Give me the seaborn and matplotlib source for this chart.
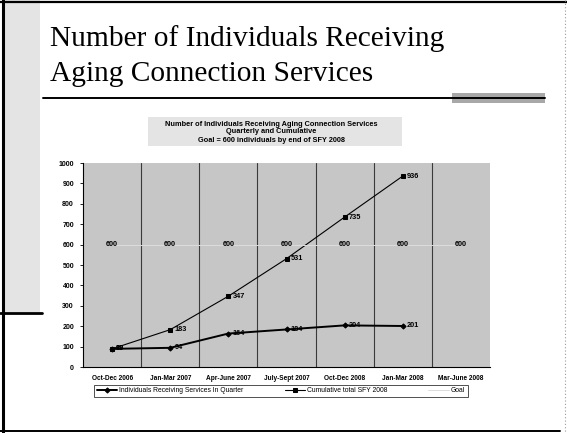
import numpy as np
import pandas as pd
import matplotlib
matplotlib.use("Agg")
import matplotlib.pyplot as plt
from matplotlib.patches import Rectangle
from matplotlib.lines import Line2D
import seaborn as sns

# Quarterly reporting periods
quarters = ["Oct-Dec 2006", "Jan-Mar 2007", "Apr-June 2007", "July-Sept 2007",
            "Oct-Dec 2008", "Jan-Mar 2008", "Mar-June 2008"]
# Individuals served in each quarter
in_quarter = [89, 94, 164, 184, 204, 201]
# Running total for the fiscal year
cumulative = [89, 183, 347, 531, 735, 936]
# Target for the year
goal = [600, 600, 600, 600, 600, 600, 600]
y_ticks = list(range(0, 1001, 100))

sns.set_style("white")
plt.rcParams["font.family"] = ["Liberation Sans", "DejaVu Sans"]
plt.rcParams.update({"text.color": "black", "axes.labelcolor": "black",
                     "xtick.color": "black", "ytick.color": "black"})

W, H = 567, 433
fig = plt.figure(figsize=(W / 100, H / 100), dpi=100)
fig.patch.set_facecolor("white")


def px_rect(x0, y0, x1, y1, **kw):
    """Rectangle in pixel coords measured from the top-left corner."""
    fig.patches.append(Rectangle((x0 / W, 1 - y1 / H), (x1 - x0) / W, (y1 - y0) / H,
                                 transform=fig.transFigure, **kw))


def px_line(x0, y0, x1, y1, **kw):
    fig.lines.append(Line2D([x0 / W, x1 / W], [1 - y0 / H, 1 - y1 / H],
                            transform=fig.transFigure, **kw))


# Slide decoration
px_rect(3, 0, 40, 312, facecolor="#e4e4e4", edgecolor="none")
px_line(0, 313, 42, 313, color="black", lw=2.0)
px_rect(148, 117, 402, 146, facecolor="#e4e4e4", edgecolor="none")
px_rect(452, 93, 545, 103, facecolor="#a8a8a8", edgecolor="none")
px_line(43, 98, 545, 98, color="black", lw=1.4)
px_line(3, 0, 3, H, color="black", lw=2.2)
px_line(0, 1.5, W, 1.5, color="black", lw=1.6)
px_line(0, 431, 560, 431, color="black", lw=1.4)
px_line(565, 0, 565, H, color="#9a9a9a", lw=0.8, ls=(0, (1, 2)))

# Slide title
fig.text(50 / W, 1 - 39 / H, "Number of Individuals Receiving", fontsize=21.2,
         family="Liberation Serif", va="center", ha="left", color="black")
fig.text(50 / W, 1 - 74 / H, "Aging Connection Services", fontsize=21.2,
         family="Liberation Serif", va="center", ha="left", color="black")

# Chart title block
for yy, s in [(124, "Number of Individuals Receiving Aging Connection Services"),
              (132, "Quarterly and Cumulative"),
              (140, "Goal = 600 individuals by end of SFY 2008")]:
    fig.text(271 / W, 1 - yy / H, s, fontsize=5.3, weight="bold", ha="center", va="center")

ax = fig.add_axes([83 / W, 1 - 367 / H, (490 - 83) / W, (367 - 163) / H])
ax.set_facecolor("#c6c6c6")

x_all = np.arange(len(quarters))
x_data = x_all[:len(in_quarter)]

sns.lineplot(x=x_data, y=in_quarter, ax=ax, color="black", lw=1.4, marker="D",
             markersize=2.6, markeredgecolor="black", label="Individuals Receiving Services In Quarter")
sns.lineplot(x=x_data, y=cumulative, ax=ax, color="black", lw=0.8, marker="s",
             markersize=2.6, markeredgecolor="black", label="Cumulative total SFY 2008")
sns.lineplot(x=x_all, y=goal, ax=ax, color="#dcdcdc", lw=0.7, label="Goal")

for xi, v in zip(x_data, in_quarter):
    ax.annotate(str(v), (xi, v), xytext=(3, 0), textcoords="offset points",
                fontsize=5.3, weight="bold", ha="left", va="center")
for xi, v in zip(x_data, cumulative):
    ax.annotate(str(v), (xi, v), xytext=(3, 0), textcoords="offset points",
                fontsize=5.3, weight="bold", ha="left", va="center")
for xi, v in zip(x_all, goal):
    ax.annotate(str(v), (xi, v), fontsize=5.2, weight="bold", ha="center", va="center")

ax.set_xlim(-0.5, len(quarters) - 0.5)
ax.set_ylim(0, 1000)
ax.set_yticks(y_ticks)
ax.set_yticklabels([str(t) for t in y_ticks], fontsize=5, weight="bold")
ax.set_xticks(x_all)
ax.set_xticklabels(quarters, fontsize=4.7, weight="bold")
ax.set_xticks(np.arange(0.5, len(quarters) - 0.5, 1.0), minor=True)
ax.grid(False)
ax.grid(True, which="minor", axis="x", color="#3a3a3a", lw=0.8)
ax.tick_params(axis="x", which="both", length=0, pad=6)
ax.tick_params(axis="y", length=2.5, width=0.6, direction="out", pad=4, left=True)
for side in ["top", "right"]:
    ax.spines[side].set_visible(False)
for side in ["left", "bottom"]:
    ax.spines[side].set_color("black")
    ax.spines[side].set_linewidth(0.8)
ax.set_xlabel("")
ax.set_ylabel("Number of Individuals", fontsize=5, weight="bold", labelpad=12)

leg = ax.legend(loc="center", bbox_to_anchor=(281 / W, 1 - 391 / H), bbox_transform=fig.transFigure,
                ncol=3, fontsize=4.9, frameon=True, fancybox=False, edgecolor="black",
                handlelength=3.0, columnspacing=6.0, borderpad=0.4, handletextpad=0.3)
leg.get_frame().set_linewidth(0.6)

fig.savefig("out.png", dpi=100, facecolor="white")
